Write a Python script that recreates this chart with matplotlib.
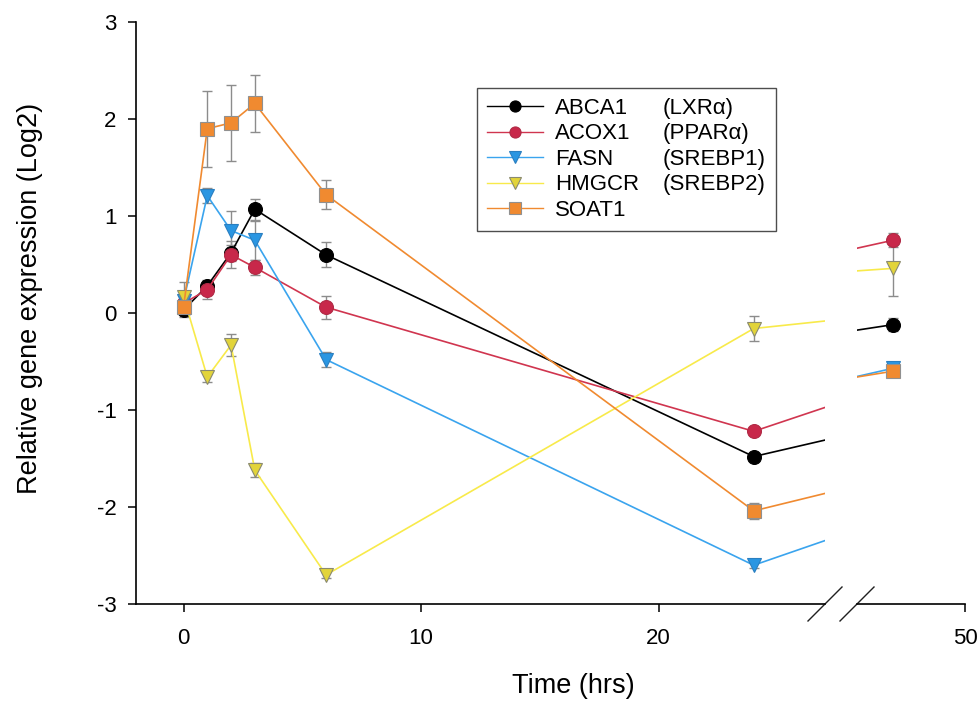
import matplotlib
matplotlib.use("Agg")
import matplotlib.pyplot as plt
from matplotlib.lines import Line2D

plt.rcParams['font.family'] = ['Liberation Sans', 'DejaVu Sans']
plt.rcParams['axes.unicode_minus'] = False

# time points (hours) and mean log2 expression with error bars
hours = [0, 1, 2, 3, 6, 24, 48]

abca1 = [0.03, 0.28, 0.62, 1.07, 0.60, -1.48, -0.12]
abca1_err = [0.05, 0.05, 0.08, 0.11, 0.13, 0.03, 0.07]
acox1 = [0.10, 0.24, 0.60, 0.47, 0.06, -1.22, 0.75]
acox1_err = [0.05, 0.10, 0.14, 0.08, 0.12, 0.04, 0.07]
fasn = [0.12, 1.21, 0.85, 0.75, -0.48, -2.60, -0.57]
fasn_err = [0.06, 0.08, 0.20, 0.20, 0.08, 0.03, 0.07]
hmgcr = [0.17, -0.66, -0.33, -1.62, -2.70, -0.16, 0.46]
hmgcr_err = [0.15, 0.05, 0.11, 0.07, 0.03, 0.13, 0.28]
soat1 = [0.06, 1.90, 1.96, 2.16, 1.22, -2.04, -0.60]
soat1_err = [0.10, 0.39, 0.39, 0.29, 0.15, 0.085, 0.05]

genes = ['ABCA1', 'ACOX1', 'FASN', 'HMGCR', 'SOAT1']
factors = ['(LXRα)', '(PPARα)', '(SREBP1)', '(SREBP2)', '']

# line colour, marker, marker face, marker edge
styles = [
    ('#000000', 'o', '#000000', '#000000'),
    ('#d0354f', 'o', '#c8284a', '#b02a45'),
    ('#3aa4ee', 'v', '#2a96e2', '#2a7fc0'),
    ('#f8ea4a', 'v', '#e2d43a', '#8a8a70'),
    ('#f08a30', 's', '#f08a30', '#909090'),
]
series = [(abca1, abca1_err), (acox1, acox1_err), (fasn, fasn_err),
          (hmgcr, hmgcr_err), (soat1, soat1_err)]

fig = plt.figure(figsize=(9.79, 7.04), dpi=100)
W, H = 979, 704
ax1 = fig.add_axes([136 / W, 1 - 604 / H, 689 / W, 582 / H])
ax2 = fig.add_axes([857 / W, 1 - 604 / H, 108 / W, 582 / H])

for ax in (ax1, ax2):
    for (vals, errs), (lc, mk, mf, me) in zip(series, styles):
        ax.errorbar(hours, vals, yerr=errs, fmt='none', ecolor='#8c8c8c',
                    elinewidth=1.0, capsize=3.5, capthick=1.0, zorder=2)
        ax.plot(hours, vals, color=lc, lw=1.2, marker=mk, ms=10,
                mfc=mf, mec=me, mew=0.8, zorder=3)
    ax.set_ylim(-3, 3)
    for s in ('top', 'right'):
        ax.spines[s].set_visible(False)
    ax.spines['bottom'].set_linewidth(1.2)
    ax.tick_params(axis='both', direction='out', length=6, width=1.1,
                   labelsize=16)
    ax.tick_params(axis='x', pad=11)
    ax.tick_params(axis='y', pad=8)

ax1.set_xlim(-2, 27)
ax1.set_xticks([0, 10, 20])
ax1.set_yticks([-3, -2, -1, 0, 1, 2, 3])
ax1.spines['left'].set_linewidth(1.2)

ax2.set_xlim(47, 50)
ax2.set_xticks([50])
ax2.spines['left'].set_visible(False)
ax2.set_yticks([])

# axis break marks
kw = dict(color='#202020', lw=1.0, clip_on=False)
ax1.plot([1 - 17 / 689, 1 + 17 / 689], [-17 / 582, 17 / 582],
         transform=ax1.transAxes, **kw)
ax2.plot([-17 / 108, 17 / 108], [-17 / 582, 17 / 582],
         transform=ax2.transAxes, **kw)

fig.text(573 / W, 1 - 686 / H, 'Time (hrs)', fontsize=19.5,
         ha='center', va='center')
fig.text(30 / W, 1 - 298 / H, 'Relative gene expression (Log2)',
         fontsize=19.5, rotation=90, ha='center', va='center')

handles = [Line2D([], [], color=lc, lw=1.0, marker=mk, ms=8, mfc=mf,
                  mec=me, mew=0.8)
           for lc, mk, mf, me in styles]
leg = ax1.legend(handles, genes, loc='upper left',
                 bbox_to_anchor=((477 - 136) / 689, (604 - 88) / 582,
                                 299 / 689, 0.0),
                 mode='expand', borderaxespad=0, fontsize=16,
                 frameon=True, fancybox=False, handlelength=2.5,
                 handletextpad=0.55, borderpad=0.45, labelspacing=0.2)
leg.get_frame().set_edgecolor('#202020')
leg.get_frame().set_linewidth(1.0)

fig.canvas.draw()
for txt, fac in zip(leg.get_texts(), factors):
    bb = txt.get_window_extent()
    yc = (bb.y0 + bb.y1) / 2
    fig.text(663 / W, yc / fig.bbox.height, fac, fontsize=16,
             ha='left', va='center')

fig.savefig('out.png', dpi=100)
